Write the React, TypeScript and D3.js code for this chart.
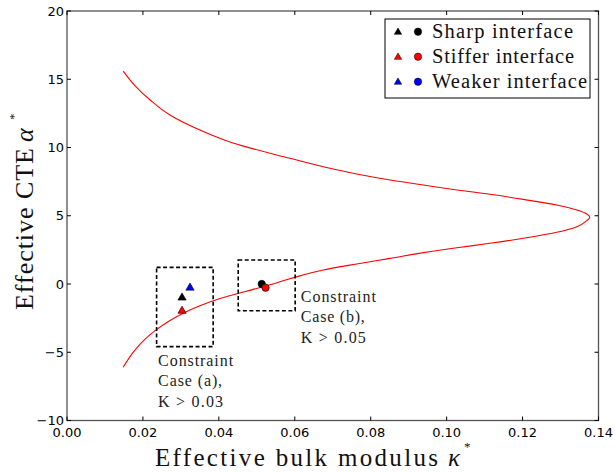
import React from 'react';
import { scaleLinear, line, curveMonotoneY, symbol, symbolTriangle } from 'd3';

// curve, ordered by falling alpha (upper branch, tip, lower branch)
const curveAlpha = [
  15.6, 14.5, 13.48, 12.38, 11.28, 10.33, 9.21, 8.59, 8.06, 7.62, 7.25, 6.89, 6.57, 6.2,
  5.79, 5.42, 5.13, 4.89, 4.64, 4.2, 3.79, 3.35, 2.98, 2.66, 2.3, 1.88, 1.47, 1.03, 0.38,
  -0.15, -0.55, -1.05, -1.6, -2.15, -3.42, -4.8, -6.1,
];
const curveKappa = [
  0.0148, 0.018, 0.0219, 0.0271, 0.035, 0.0437, 0.0587, 0.0675, 0.0763, 0.0851, 0.0939, 0.1027, 0.1114, 0.1202,
  0.129, 0.1343, 0.1369, 0.1377, 0.1369, 0.1343, 0.129, 0.1202, 0.1114, 0.1027, 0.0939, 0.0851, 0.0763, 0.0675, 0.0587,
  0.0523, 0.047, 0.0405, 0.035, 0.0306, 0.0232, 0.018, 0.0148,
];

const legendLabels = ['Sharp interface', 'Stiffer interface', 'Weaker interface'];
const legendColors = ['#000000', '#ff0000', '#0000ff'];

// triangles (case a) and circles (case b)
const triKappa = [0.0303, 0.0303, 0.0324];
const triAlpha = [-0.93, -1.9, -0.2];
const triColor = ['#000000', '#ff0000', '#0000ff'];
const dotKappa = [0.0513, 0.0523];
const dotAlpha = [0.0, -0.27];
const dotColor = ['#000000', '#ff0000'];

const boxA = { k0: 0.0236, k1: 0.0385, a0: -4.59, a1: 1.22 };
const boxB = { k0: 0.0451, k1: 0.0601, a0: -1.96, a1: 1.76 };
const noteA = ['Constraint', 'Case (a),', 'K > 0.03'];
const noteB = ['Constraint', 'Case (b),', 'K > 0.05'];
const noteWidths = [75, 64, 65];

const xTicks = [0, 0.02, 0.04, 0.06, 0.08, 0.1, 0.12, 0.14];
const yTicks = [-10, -5, 0, 5, 10, 15, 20];

const width = 615;
const height = 473;
const margin = { top: 11, right: 16.5, bottom: 52.5, left: 67 };
const innerWidth = width - margin.left - margin.right;
const innerHeight = height - margin.top - margin.bottom;

const serif = '"Liberation Serif", "DejaVu Serif", serif';
const sans = '"DejaVu Sans", sans-serif';

function App() {
  const x = scaleLinear().domain([0, 0.14]).range([0, innerWidth]);
  const y = scaleLinear().domain([-10, 20]).range([innerHeight, 0]);

  const pts = curveKappa.map((k, i) => [k, curveAlpha[i]] as [number, number]);
  const path = line<[number, number]>()
    .x(d => x(d[0]))
    .y(d => y(d[1]))
    .curve(curveMonotoneY)(pts);

  const tri = symbol().type(symbolTriangle).size(30)()!;
  const legendTri = symbol().type(symbolTriangle).size(24)()!;
  const tickLen = 4;

  const box = (b: typeof boxA, key: string) => (
    <rect
      key={key}
      x={x(b.k0)}
      y={y(b.a1)}
      width={x(b.k1) - x(b.k0)}
      height={y(b.a0) - y(b.a1)}
      fill="none"
      stroke="#000"
      strokeWidth={1.6}
      strokeDasharray="4 2.5"
    />
  );

  const note = (lines: string[], k: number, a: number) => (
    <text fontFamily={serif} fontSize={16} fill="#222">
      {lines.map((s, i) => (
        <tspan key={i} x={x(k)} y={y(a) + i * 20.5} textLength={noteWidths[i]} lengthAdjust="spacing">
          {s}
        </tspan>
      ))}
    </text>
  );

  return (
    <svg width={width} height={height} style={{ position: 'absolute', left: 0, top: 0 }}>
      <rect width={width} height={height} fill="#fff" />
      <g transform={`translate(${margin.left}, ${margin.top})`}>
        <path d={path!} fill="none" stroke="#ff0000" strokeWidth={1.1} />

        {box(boxA, 'a')}
        {box(boxB, 'b')}

        {triKappa.map((k, i) => (
          <path
            key={'t' + i}
            d={tri}
            transform={`translate(${x(k)}, ${y(triAlpha[i]) + 1})`}
            fill={triColor[i]}
            stroke="#000"
            strokeWidth={0.6}
          />
        ))}
        {dotKappa.map((k, i) => (
          <circle
            key={'c' + i}
            cx={x(k)}
            cy={y(dotAlpha[i])}
            r={3.7}
            fill={dotColor[i]}
            stroke="#000"
            strokeWidth={0.6}
          />
        ))}

        {note(noteA, 0.024, -6.0)}
        {note(noteB, 0.0616, -1.3)}

        {/* frame */}
        <rect x={0} y={0} width={innerWidth} height={innerHeight} fill="none" stroke="#555" strokeWidth={1.3} />

        {xTicks.map(t => (
          <g key={'x' + t}>
            <line x1={x(t)} x2={x(t)} y1={innerHeight} y2={innerHeight - tickLen} stroke="#000" />
            <line x1={x(t)} x2={x(t)} y1={0} y2={tickLen} stroke="#000" />
            <text x={x(t)} y={innerHeight + 16} textAnchor="middle" fontFamily={sans} fontSize={13} fill="#000">
              {t.toFixed(2)}
            </text>
          </g>
        ))}
        {yTicks.map(t => (
          <g key={'y' + t}>
            <line x1={0} x2={tickLen} y1={y(t)} y2={y(t)} stroke="#000" />
            <line x1={innerWidth} x2={innerWidth - tickLen} y1={y(t)} y2={y(t)} stroke="#000" />
            <text x={-3} y={y(t) + 4.5} textAnchor="end" fontFamily={sans} fontSize={13} fill="#000">
              {t < 0 ? '\u2212' + Math.abs(t) : t}
            </text>
          </g>
        ))}
      </g>

      {/* legend */}
      <g transform="translate(385, 19)">
        <rect x={0} y={0} width={205} height={79} fill="#fff" stroke="#000" strokeWidth={1} />
        {legendLabels.map((s, i) => (
          <g key={s} transform={`translate(0, ${12.7 + i * 25})`}>
            <path d={legendTri} transform="translate(13, 0.5)" fill={legendColors[i]} stroke="#000" strokeWidth={0.5} />
            <circle cx={33} cy={0} r={3.7} fill={legendColors[i]} stroke="#000" strokeWidth={0.5} />
            <text
              x={47}
              y={6.5}
              fontFamily={serif}
              fontSize={20.5}
              fill="#111"
              textLength={[141, 142, 155][i]}
              lengthAdjust="spacing"
            >
              {s}
            </text>
          </g>
        ))}
      </g>

      {/* axis labels */}
      <text x={155} y={466} fontFamily={serif} fontSize={25} fill="#111">
        <tspan textLength={283} lengthAdjust="spacing">Effective bulk modulus</tspan>
        <tspan x={448} fontStyle="italic">κ</tspan>
        <tspan x={464} dy={-15} fontSize={13}>*</tspan>
      </text>
      <text transform="translate(33, 310) rotate(-90)" fontFamily={serif} fontSize={26} fill="#111">
        <tspan textLength={162} lengthAdjust="spacing">Effective CTE</tspan>
        <tspan x={168} fontStyle="italic">α</tspan>
        <tspan x={190} dy={-15} fontSize={13}>*</tspan>
      </text>
    </svg>
  );
}

export default App;
